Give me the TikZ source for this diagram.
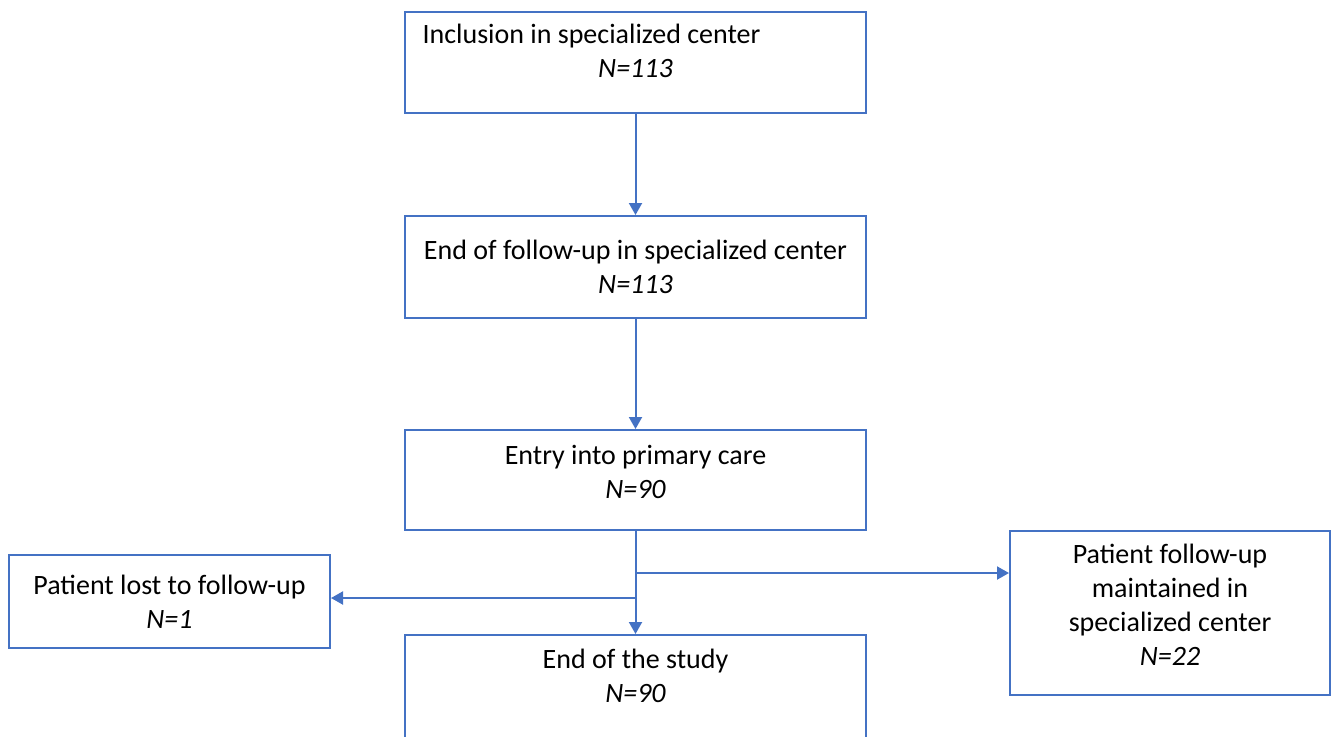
\documentclass[tikz,border=0pt]{standalone}
\usepackage{fontspec}
\setmainfont{Carlito}
\usetikzlibrary{arrows.meta}
\definecolor{bordo}{HTML}{4472C4}
\begin{document}
\begin{tikzpicture}[x=0.5pt, y=-0.5pt,
    box/.style={draw=bordo, line width=1pt, align=center, inner sep=0pt,
        font=\fontsize{14}{17}\selectfont},
    freccia/.style={draw=bordo, line width=1pt, -{Triangle[length=6pt,width=6.5pt]}}]
    \clip (0,0) rectangle (1331,736);
    % Flusso dei pazienti
    \node[box, minimum width=230.5pt, minimum height=50.5pt] (incl) at (635.5,62.5)
        {Inclusion in specialized center\hspace*{44pt}\\\textit{N=113}\\[-5pt]{}};
    \node[box, minimum width=230.5pt, minimum height=51pt] (endfu) at (635.5,267)
        {End of follow-up in specialized center\\\textit{N=113}};
    \node[box, minimum width=230.5pt, minimum height=50pt] (entry) at (635.5,480)
        {Entry into primary care\\\textit{N=90}\\[-9pt]{}};
    \node[box, minimum width=160.5pt, minimum height=46.5pt] (lost) at (169.5,601.5)
        {Patient lost to follow-up\\\textit{N=1}};
    \node[box, minimum width=160pt, minimum height=82pt] (maint) at (1170,613)
        {Patient follow-up\\maintained in\\specialized center\\\textit{N=22}\\[-9pt]{}};
    \node[box, minimum width=230.5pt, minimum height=55pt] (endst) at (635.5,690)
        {End of the study\\\textit{N=90}\\[-3pt]{}};

    \coordinate (splitR) at (635.5,573);
    \coordinate (splitL) at (635.5,598);

    \foreach \da/\a in {incl/endfu, endfu/entry, entry/endst}
        \draw[freccia] (\da.south) -- (\a.north);
    \draw[freccia] (splitR) -- (splitR -| maint.west);
    \draw[freccia] (splitL) -- (splitL -| lost.east);
\end{tikzpicture}
\end{document}
